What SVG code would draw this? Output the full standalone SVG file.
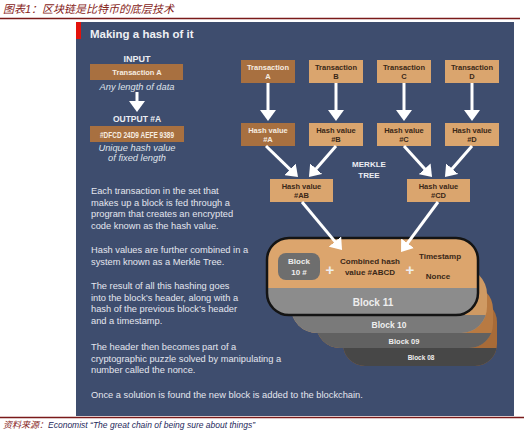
<svg xmlns="http://www.w3.org/2000/svg" width="524" height="435" viewBox="0 0 524 435">
<style>
text{font-family:"Liberation Sans",Arial,"Noto Sans CJK SC",sans-serif}
.cn{font-family:"Liberation Sans","Noto Sans CJK SC",sans-serif;font-style:italic}
.bx{font-weight:bold;font-size:7.5px;text-anchor:middle}
.dk{fill:#a87040}
.lt{fill:#daa56e}
.wt{fill:#f6ece0}
.bt{fill:#3a2818}
.hd{font-weight:bold;text-anchor:middle;fill:#eceef3}
.it{font-style:italic;font-size:9.3px;text-anchor:middle;fill:#dfe2ea}
.para{font-size:9.3px;fill:#e4e6ee}
.conn{stroke:#fff;stroke-width:3;fill:none;marker-end:url(#ah)}
.bl{font-weight:bold;text-anchor:middle;fill:#eeeeee}
</style>
<defs>
<marker id="ah" viewBox="0 -8 11 16" refX="5" refY="0" markerWidth="11" markerHeight="16" markerUnits="userSpaceOnUse" orient="auto"><path d="M0,-8L11,0L0,8z" fill="#fff"/></marker>
<clipPath id="c08"><rect x="343" y="300" width="154" height="66" rx="22"/></clipPath>
<clipPath id="c09"><rect x="316" y="285" width="177" height="63" rx="24"/></clipPath>
<clipPath id="c10"><rect x="291" y="268" width="196" height="65" rx="26"/></clipPath>
<clipPath id="c11"><rect x="267" y="238" width="211" height="77" rx="22"/></clipPath>
</defs>

<rect width="524" height="435" fill="#fff"/>
<g id="header">
<text x="3" y="13" class="cn" font-size="11" fill="#862319">图表1：区块链是比特币的底层技术</text>
<line x1="0" y1="18.5" x2="520" y2="18.5" stroke="#7a1a1a" stroke-width="1.5"/>
</g>

<g id="panel">
<rect x="76" y="22" width="438" height="394" fill="#3e4d6e"/>
<rect x="76" y="22" width="5" height="17" fill="#e3120b"/>
<text x="90" y="38" font-size="11.5" font-weight="bold" fill="#eef0f4">Making a hash of it</text>
</g>

<g id="input">
<text x="137" y="62" class="hd" font-size="9">INPUT</text>
<rect x="90" y="64" width="93" height="16" class="dk"/>
<text x="137" y="75" class="bx wt">Transaction A</text>
<text x="137" y="90" class="it">Any length of data</text>
</g>

<g id="output">
<text x="137" y="122" class="hd" font-size="8.5">OUTPUT #A</text>
<rect x="90" y="126" width="94" height="16" class="dk"/>
<text x="137" y="137.5" class="bx wt" style="font-size:8.5px" textLength="74" lengthAdjust="spacingAndGlyphs">#DFCD 24D9 AEFE 9389</text>
<text x="137" y="151" class="it">Unique hash value</text>
<text x="137" y="161" class="it">of fixed length</text>
</g>

<g id="txA"><rect x="241" y="60" width="54" height="23" class="dk"/><text x="268" y="69.5" class="bx wt">Transaction</text><text x="268" y="79" class="bx wt">A</text></g>
<g id="txB"><rect x="309" y="60" width="54" height="23" class="lt"/><text x="336" y="69.5" class="bx bt">Transaction</text><text x="336" y="79" class="bx bt">B</text></g>
<g id="txC"><rect x="377" y="60" width="54" height="23" class="lt"/><text x="404" y="69.5" class="bx bt">Transaction</text><text x="404" y="79" class="bx bt">C</text></g>
<g id="txD"><rect x="445" y="60" width="54" height="23" class="lt"/><text x="472" y="69.5" class="bx bt">Transaction</text><text x="472" y="79" class="bx bt">D</text></g>

<g id="hashA"><rect x="241" y="123" width="54" height="23" class="dk"/><text x="268" y="132.5" class="bx wt">Hash value</text><text x="268" y="142" class="bx wt">#A</text></g>
<g id="hashB"><rect x="309" y="123" width="54" height="23" class="lt"/><text x="336" y="132.5" class="bx bt">Hash value</text><text x="336" y="142" class="bx bt">#B</text></g>
<g id="hashC"><rect x="377" y="123" width="54" height="23" class="lt"/><text x="404" y="132.5" class="bx bt">Hash value</text><text x="404" y="142" class="bx bt">#C</text></g>
<g id="hashD"><rect x="445" y="123" width="54" height="23" class="lt"/><text x="472" y="132.5" class="bx bt">Hash value</text><text x="472" y="142" class="bx bt">#D</text></g>

<g id="hashAB"><rect x="270" y="179" width="63" height="23" class="lt"/><text x="301.5" y="188.5" class="bx bt">Hash value</text><text x="301.5" y="198" class="bx bt">#AB</text></g>
<g id="hashCD"><rect x="407" y="179" width="63" height="23" class="lt"/><text x="438.5" y="188.5" class="bx bt">Hash value</text><text x="438.5" y="198" class="bx bt">#CD</text></g>

<g id="merkle-label">
<text x="369" y="167" class="hd" font-size="8" fill="#dfe3ec">MERKLE</text>
<text x="369" y="178" class="hd" font-size="8" fill="#dfe3ec">TREE</text>
</g>

<g id="explanation">
<text x="91" y="194" class="para">Each transaction in the set that</text>
<text x="91" y="205.5" class="para">makes up a block is fed through a</text>
<text x="91" y="217" class="para">program that creates an encrypted</text>
<text x="91" y="228.5" class="para">code known as the hash value.</text>
<text x="91" y="253" class="para">Hash values are further combined in a</text>
<text x="91" y="264.5" class="para">system known as a Merkle Tree.</text>
<text x="91" y="289" class="para">The result of all this hashing goes</text>
<text x="91" y="300.5" class="para">into the block’s header, along with a</text>
<text x="91" y="312" class="para">hash of the previous block’s header</text>
<text x="91" y="323.5" class="para">and a timestamp.</text>
<text x="91" y="350" class="para">The header then becomes part of a</text>
<text x="91" y="361.5" class="para">cryptographic puzzle solved by manipulating a</text>
<text x="91" y="373" class="para">number called the nonce.</text>
<text x="91" y="398" class="para">Once a solution is found the new block is added to the blockchain.</text>
</g>

<g id="block08">
<g clip-path="url(#c08)"><rect x="343" y="300" width="154" height="66" fill="#a86b38"/><rect x="343" y="348" width="154" height="18" fill="#474747"/></g>
<text x="421" y="360" class="bl" font-size="6.5">Block 08</text>
</g>
<g id="block09">
<g clip-path="url(#c09)"><rect x="316" y="285" width="177" height="63" fill="#b87a42"/><rect x="316" y="333" width="177" height="15" fill="#616161"/></g>
<text x="404" y="343.5" class="bl" font-size="7.5">Block 09</text>
</g>
<g id="block10">
<g clip-path="url(#c10)"><rect x="291" y="268" width="196" height="65" fill="#cf9a63"/><rect x="291" y="315" width="196" height="18" fill="#7a7a7a"/></g>
<text x="389" y="327.5" class="bl" font-size="8.5">Block 10</text>
</g>
<g id="block11">
<g clip-path="url(#c11)"><rect x="267" y="238" width="211" height="77" fill="#dca56d"/><rect x="267" y="288" width="211" height="27" fill="#8c8c8c"/></g>
<rect x="267" y="238" width="211" height="77" rx="22" fill="none" stroke="#141414" stroke-width="2.5"/>
<rect x="278" y="253" width="42" height="27" rx="8" fill="#6e6e6e"/>
<text x="299" y="264" class="bl" font-size="8" fill="#fff">Block</text>
<text x="299" y="275" class="bl" font-size="8" fill="#fff">10 #</text>
<text x="330" y="275" class="bl" font-size="15" fill="#fff">+</text>
<text x="370" y="264" class="bx bt" style="font-size:8px">Combined hash</text>
<text x="370" y="275" class="bx bt" style="font-size:8px">value #ABCD</text>
<text x="410" y="275" class="bl" font-size="15" fill="#fff">+</text>
<text x="440" y="259" class="bx bt" style="font-size:8px">Timestamp</text>
<text x="438" y="279" class="bx bt" style="font-size:8px">Nonce</text>
<text x="373" y="306" class="bl" font-size="10" fill="#fff">Block 11</text>
</g>

<g id="connectors">
<line x1="137" y1="92" x2="137" y2="106" class="conn"/>
<line x1="268" y1="83" x2="268" y2="115" class="conn"/>
<line x1="336" y1="83" x2="336" y2="115" class="conn"/>
<line x1="404" y1="83" x2="404" y2="115" class="conn"/>
<line x1="472" y1="83" x2="472" y2="115" class="conn"/>
<line x1="266" y1="146" x2="293.7" y2="172.8" class="conn"/>
<line x1="336" y1="146" x2="312.9" y2="172.5" class="conn"/>
<line x1="404" y1="146" x2="428" y2="172.5" class="conn"/>
<line x1="472" y1="146" x2="448.9" y2="172.5" class="conn"/>
<line x1="302" y1="202" x2="338.2" y2="245.4" class="conn"/>
<line x1="438" y1="202" x2="404.6" y2="247.2" class="conn"/>
</g>

<g id="footer">
<line x1="0" y1="417.5" x2="524" y2="417.5" stroke="#7a1a1a" stroke-width="1.5"/>
<text x="3" y="428" font-size="9" class="cn"><tspan fill="#862319">资料来源：</tspan><tspan fill="#1f2a5c" font-size="8.5">Economist “The great chain of being sure about things”</tspan></text>
</g>
</svg>
